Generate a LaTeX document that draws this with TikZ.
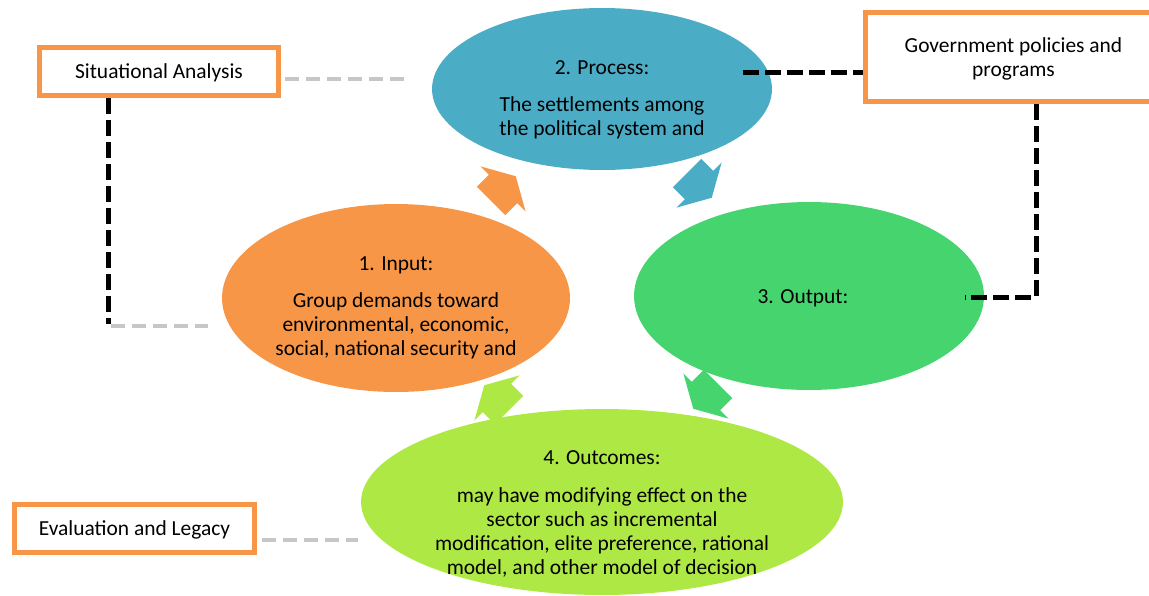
\documentclass[tikz,border=0pt]{standalone}
\usepackage{fontspec}
\setmainfont{Carlito}
\usetikzlibrary{shapes.geometric}

\definecolor{inorange}{HTML}{F79646}
\definecolor{procblue}{HTML}{4BACC6}
\definecolor{outgreen}{HTML}{46D46F}
\definecolor{outclime}{HTML}{AEE845}

\newcommand{\cyclefont}{\fontsize{12.2}{13.7}\selectfont}

\tikzset{
  stage/.style={ellipse, inner sep=0pt},
  stagetext/.style={align=center},
  factorbox/.style={draw=inorange, line width=0.1cm, fill=white, align=center, inner sep=0pt, text depth=0pt},
  linkblack/.style={line width=0.1cm, dash pattern=on 0.32cm off 0.12cm},
  linkgray/.style={line width=0.08cm, black!22, dash pattern=on 0.28cm off 0.14cm},
}

\begin{document}
\begin{tikzpicture}[x=0.02cm, y=-0.02cm, every node/.style={font=\cyclefont}]
    \useasboundingbox (0,0) rectangle (1149,595);

	% the four stages
	\node[stage, fill=procblue, minimum width=6.8cm, minimum height=3.24cm] (process) at (602,89) {};
	\node[stage, fill=inorange, minimum width=6.96cm, minimum height=3.76cm] (input) at (396,298) {};
	\node[stage, fill=outgreen, minimum width=7cm, minimum height=3.76cm] (output) at (809,296) {};
	\node[stage, fill=outclime, minimum width=9.64cm, minimum height=3.72cm] (outcomes) at (602,502) {};

	\node[stagetext] (processtxt) at (602,100) {2. Process:\\[7.4pt]The settlements among\\the political system and};
	\node[stagetext] (inputtxt) at (396,308) {1. Input:\\[7.4pt]Group demands toward\\environmental, economic,\\social, national security and};
	\node[stagetext] (outputtxt) at (803,298) {3. Output:};
	\node[stagetext] (outcomestxt) at (602,514) {4. Outcomes:\\[7.4pt]may have modifying effect on the\\sector such as incremental\\modification, elite preference, rational\\model, and other model of decision};

	% cycle arrows
	\foreach \px/\py/\ang/\col in {491/201/45/inorange, 687/173/-45/procblue, 718/384/-135/outgreen, 509/410/135/outclime}
	    {
		  \fill[\col, shift={(\px,\py)}, rotate=\ang] (0,-20) -- (17,-20) -- (17,-32) -- (35,0) -- (17,32) -- (17,20) -- (0,20) -- cycle;
	    }

	% side boxes
	\node[factorbox, minimum width=4.8cm, minimum height=0.98cm] (sitbox) at (159,71.5) {Situational Analysis};
	\node[factorbox, minimum width=5.92cm, minimum height=1.78cm] (govbox) at (1013.5,57) {Government policies and\\programs};
	\node[factorbox, minimum width=4.8cm, minimum height=0.96cm] (evalbox) at (134.5,528.5) {Evaluation and Legacy};

	% connectors
	\coordinate (procend) at (743,72);
	\coordinate (outend) at (965,297);
	\coordinate (govfoot) at ([xshift=0.45cm]govbox.south);
	\coordinate (sitfoot) at ([xshift=-1.02cm]sitbox.south);
	\coordinate (sitend) at (208,326);
	\coordinate (sitgray) at (410,79);
	\coordinate (evalgray) at (358,540);

	\draw[linkblack] (procend) -- (procend -| govbox.west);
	\draw[linkblack] (govfoot) |- (outend);
	\draw[linkblack] (sitfoot) -- ([yshift=0.04cm]sitfoot |- sitend);
	\draw[linkgray] ([xshift=0.06cm]sitfoot |- sitend) -- (sitend);
	\draw[linkgray] ([xshift=0.08cm]sitgray -| sitbox.east) -- (sitgray);
	\draw[linkgray] ([xshift=0.1cm]evalgray -| evalbox.east) -- (evalgray);
    \end{tikzpicture}
\end{document}
